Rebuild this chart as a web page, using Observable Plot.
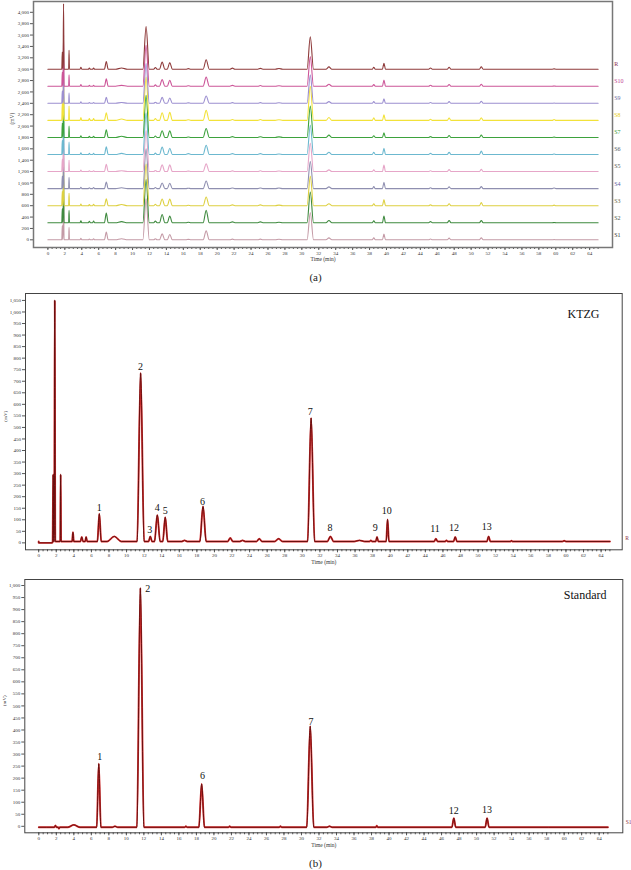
<!DOCTYPE html>
<html><head><meta charset="utf-8">
<script src="https://cdn.jsdelivr.net/npm/d3@7"></script>
<script src="https://cdn.jsdelivr.net/npm/@observablehq/plot@0.6"></script>
<style>
body{margin:0;background:#fff;width:631px;font-family:"Liberation Serif",serif;}
.cap{text-align:center;font-size:11px;color:#222;}
svg{overflow:visible;display:block;}
</style></head><body>
<div id="pa"></div>
<div class="cap" style="height:25px;line-height:25px;">(a)</div>
<div id="pb1"></div>
<div id="pb2"></div>
<div class="cap" style="height:18px;line-height:22px;">(b)</div>
<script>
// ---------- shared tick labels ----------
const xTicks = [0,2,4,6,8,10,12,14,16,18,20,22,24,26,28,30,32,34,36,38,40,42,44,46,48,50,52,54,56,58,60,62,64];
const xMinor = d3.range(0, 65.01, 0.5);
const yTicksA = [0,200,400,600,800,1000,1200,1400,1600,1800,2000,2200,2400,2600,2800,3000,3200,3400,3600,3800,4000];
const yTicksK = [0,50,100,150,200,250,300,350,400,450,500,550,600,650,700,750,800,850,900,950,1000,1050];
const yTicksS = [0,50,100,150,200,250,300,350,400,450,500,550,600,650,700,750,800,850,900,950,1000];

// ---------- panel (a): 11 stacked chromatograms ----------
const aSeries  = ["S1","S2","S3","S4","S5","S6","S7","S8","S9","S10","R"];
const aOffsets = [0,300,600,900,1200,1500,1800,2100,2400,2700,3000];
const aColors  = ["#c49aa6","#3f8a3f","#ddd040","#8f8fb0","#e6a6c8","#6cb8cf","#3da23d","#f2e23a","#9c8fd0","#cc5598","#8e3a3a"];
const aLabelColors = ["#333333","#4a554a","#6a6a4a","#5a5aa0","#555555","#4d5a66","#3a9a3a","#e8cc20","#6a6aa0","#c0408f","#8a3050"];
const aPeakTimes  = [1.7, 1.85, 2.5, 3.9, 4.9, 5.4, 6.9, 8.7, 11.6, 12.7, 13.5, 14.4, 16.6, 18.7, 21.8, 25.1, 27.3, 31.0, 33.2, 38.5, 39.7, 45.2, 47.4, 51.2, 59.8];
const aPeakWidths = [0.06,0.06,0.05,0.1,0.12,0.12,0.22,0.7,0.38,0.2,0.32,0.3,0.3,0.36,0.3,0.3,0.45,0.38,0.35,0.18,0.18,0.22,0.22,0.22,0.22];
const hS1  = [250, 850, 220, 25, 15, 20, 135, 20, 720, 20, 105,  94,  8, 158, 12, 12, 10, 480, 35, 35, 100, 15, 30, 35,  5];
const hS2  = [250, 850, 220, 35, 25, 30, 170, 20, 760, 30, 146, 117,  8, 217, 15, 15, 10, 540, 40, 35, 120, 20, 40, 40,  5];
const hS3  = [250, 850, 220, 30, 20, 25, 123, 20, 730, 25, 117, 117,  8, 152, 15, 15, 10, 520, 35, 35, 110, 15, 35, 55, 10];
const hS4  = [220, 800, 200, 25, 15, 20, 117, 15, 700, 20, 100,  94,  8, 135, 12, 12, 10, 480, 30, 35, 110, 15, 30, 35, 10];
const hS5  = [220, 800, 200, 25, 15, 15, 129, 15, 720, 20, 117, 117,  8, 135, 12, 15, 10, 500, 30, 30, 115, 15, 35, 40,  5];
const hS6  = [250, 850, 220, 30, 20, 20, 135, 20, 730, 25, 129, 111, 15, 164, 15, 15, 10, 520, 40, 40, 110, 20, 40, 60, 10];
const hS7  = [250, 850, 200, 30, 20, 20, 135, 20, 740, 25, 117, 117,  8, 158, 15, 12, 10, 550, 40, 30,  80, 15, 35, 40,  5];
const hS8  = [300, 900, 250, 50, 30, 30, 135, 25, 760, 30, 135, 140, 10, 176, 15, 15, 12, 600, 50, 45, 100, 20, 40, 45, 15];
const hS9  = [220, 800, 180, 25, 15, 15, 105, 15, 700, 20, 105,  94,  8, 129, 12, 12, 10, 500, 30, 30,  80, 15, 30, 35,  5];
const hS10 = [250, 900, 200, 30, 15, 15, 130, 15, 720, 25, 117, 105,  8, 160, 15, 12, 10, 520, 35, 30, 110, 18, 30, 35,  5];
const hR   = [300,1150, 330, 35, 20, 20, 135, 20, 750, 30, 125, 115, 10, 165, 18, 15, 12, 570, 40, 35, 105, 20, 35, 40,  5];
const aHeights = [hS1,hS2,hS3,hS4,hS5,hS6,hS7,hS8,hS9,hS10,hR];

// ---------- panel (b) top: KTZG (R) ----------
const kTimes   = [1.65, 1.83, 2.5, 3.9, 4.9, 5.4, 6.9, 8.6, 11.6, 12.7, 13.5, 14.4, 16.6, 18.7, 21.8, 23.2, 25.1, 27.3, 31.0, 33.2, 36.5, 37.8, 38.5, 39.7, 45.2, 46.4, 47.4, 51.2, 53.8, 59.8];
const kWidths  = [0.06, 0.06, 0.05, 0.1, 0.15, 0.12, 0.22, 0.8, 0.4, 0.2, 0.32, 0.28, 0.3, 0.36, 0.3, 0.3, 0.3, 0.45, 0.4, 0.35, 0.6, 0.15, 0.15, 0.16, 0.2, 0.15, 0.2, 0.2, 0.15, 0.2];
const kHeights = [290, 1045, 290, 40, 20, 20, 120, 22, 730, 22, 115, 105, 5, 152, 15, 5, 12, 12, 535, 22, 5, 5, 20, 95, 12, 5, 20, 22, 3, 3];
const kBase = 6;
const kLabels = ["1","2","3","4","5","6","7","8","9","10","11","12","13"];
const kLabelT = [6.9, 11.6, 12.65, 13.5, 14.4, 18.65, 30.9, 33.15, 38.3, 39.6, 45.1, 47.25, 51.0];
const kLabelV = [152, 762, 58, 152, 140, 180, 568, 65, 65, 140, 62, 65, 69];

// ---------- panel (b) bottom: Standard (S1) ----------
const sTimes   = [1.9, 2.3, 4.0, 6.85, 8.7, 11.6, 16.8, 18.6, 21.8, 27.6, 31.0, 33.2, 38.6, 47.4, 51.2];
const sWidths  = [0.12, 0.1, 0.7, 0.24, 0.3, 0.4, 0.15, 0.32, 0.15, 0.15, 0.4, 0.3, 0.12, 0.22, 0.22];
const sHeights = [8, -6, 10, 264, 4, 994, 4, 180, 4, 4, 420, 4, 6, 38, 38];
const sBase = -4;
const sLabels = ["1","2","6","7","12","13"];
const sLabelT = [6.95, 12.45, 18.7, 31.1, 47.4, 51.2];
const sLabelV = [287, 986, 208, 436, 65, 68];

// build a polyline from a peak table (each peak: base -> apex -> base)
function trace(times, widths, heights, base, extra) {
  const pts = [[0, base], [65, base]].concat(extra || []);
  times.forEach((t, i) => {
    const w = widths[i];
    pts.push([t - w, base], [t, base + heights[i]], [t + w, base]);
  });
  return pts.sort((a, b) => a[0] - b[0]);
}

const fmt = d3.format(",");
function axes(yT, titleDy) {
  return [
    Plot.axisX(xMinor, {anchor: "bottom", tickSize: 2, tickFormat: () => "", stroke: "#555", label: null}),
    Plot.axisX(xTicks, {anchor: "bottom", tickSize: 3, tickPadding: 1, fontSize: 5, fill: "#333", stroke: "#555", label: null}),
    Plot.axisY(yT, {anchor: "left", tickSize: 3, tickPadding: 1.5, fontSize: 5, fill: "#333", stroke: "#555", tickFormat: fmt, label: null}),
    Plot.text(["Time (min)"], {frameAnchor: "bottom", dy: titleDy, fontSize: 5.5, fill: "#333"}),
  ];
}

// ---------- draw (a) ----------
{
  const marks = [];
  aSeries.forEach((s, i) => {
    const pts = trace(aPeakTimes, aPeakWidths, aHeights[i], aOffsets[i]);
    marks.push(Plot.line(pts, {x: d => d[0], y: d => d[1], stroke: aColors[i], strokeWidth: 1.1, curve: "monotone-x"}));
  });
  aSeries.forEach((s, i) => {
    marks.push(Plot.text([s], {x: () => 66.9, y: () => aOffsets[i], dy: -5, text: d => d, textAnchor: "start", fontSize: 6, fill: aLabelColors[i]}));
  });
  marks.push(...axes(yTicksA, 13.5));
  marks.push(Plot.text(["(mV)"], {frameAnchor: "left", rotate: -90, dx: -21, fontSize: 5.5, fill: "#333"}));
  marks.push(Plot.frame({stroke: "#777", strokeWidth: 1.5}));
  const p = Plot.plot({
    width: 631, height: 265,
    marginLeft: 33, marginRight: 19, marginTop: 1, marginBottom: 18,
    x: {domain: [-1.7, 66.7]}, y: {domain: [-135, 4190]},
    style: {fontFamily: "Liberation Serif, serif", background: "white"},
    marks
  });
  document.getElementById("pa").appendChild(p);
}

// ---------- draw (b) panels ----------
function panelB(el, pts, yDomain, yT, xDomain, mTop, mLeft, mRight, mBottom, height, labels, labT, labV, title, titleT, titleV, tag, tagV) {
  const marks = [
    Plot.line(pts, {x: d => d[0], y: d => d[1], stroke: "#d93030", strokeWidth: 1.9, curve: "monotone-x"}),
    Plot.line(pts, {x: d => d[0], y: d => d[1], stroke: "#5e0b0b", strokeWidth: 0.9, curve: "monotone-x"}),
    Plot.text(labels, {x: (d, i) => labT[i], y: (d, i) => labV[i], text: d => d, fontSize: 10, fill: "#111"}),
    Plot.text([title], {x: () => titleT, y: () => titleV, text: d => d, fontSize: 12, fill: "#111"}),
    Plot.text([tag], {x: () => xDomain[1], y: () => tagV, dx: 3, text: d => d, textAnchor: "start", fontSize: 5.5, fill: "#8a3040"}),
    ...axes(yT, 14),
    Plot.text(["(mV)"], {frameAnchor: "left", rotate: -90, dx: -20, fontSize: 5, fill: "#333"}),
    Plot.frame({stroke: "#444", strokeWidth: 1})
  ];
  const p = Plot.plot({
    width: 631, height,
    marginLeft: mLeft, marginRight: mRight, marginTop: mTop, marginBottom: mBottom,
    x: {domain: xDomain}, y: {domain: yDomain},
    style: {fontFamily: "Liberation Serif, serif", background: "white"},
    marks
  });
  document.getElementById(el).appendChild(p);
}

panelB("pb1", trace(kTimes, kWidths, kHeights, kBase, [[0.0, 0], [1.55, 0]]), [-30, 1080], yTicksK, [-1.5, 66.4],
  3, 25, 9.3, 20.7, 280, kLabels, kLabelT, kLabelV, "KTZG", 62.0, 990, "R", 20);
panelB("pb2", trace(sTimes, sWidths, sHeights, sBase), [-27, 1025], yTicksS, [-1.6, 66.7],
  9, 24.3, 8.7, 19.7, 282, sLabels, sLabelT, sLabelV, "Standard", 62.4, 960, "S1", 15);
</script>
</body></html>
